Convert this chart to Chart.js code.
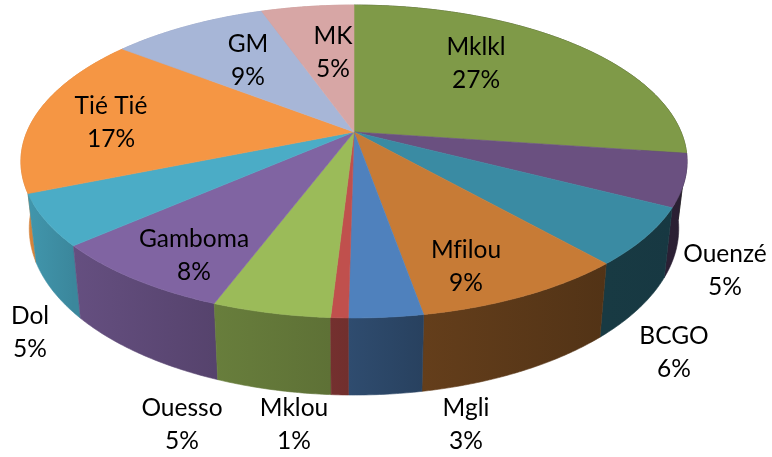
<!DOCTYPE html>
<html>
<head>
<meta charset="utf-8">
<style>
    html, body { margin: 0; padding: 0; background: #fff; }
    canvas { display: block; }
</style>
<script src="https://cdn.jsdelivr.net/npm/chart.js@4/dist/chart.umd.js"></script>
</head>
<body>
<canvas id="pie_chart" width="772" height="457"></canvas>
<script>
'use strict';

// Slices, clockwise from the top
const categories = ['Mklkl', 'Ouenzé', 'BCGO', 'Mfilou', 'Mgli', 'Mklou', 'Ouesso', 'Gamboma', 'Dol', 'Tié Tié', 'GM', 'MK'];
const shares = [27.2, 5.4, 5.9, 8.75, 3.0, 0.7, 4.8, 7.8, 5.3, 16.7, 9.1, 5.4];
const sliceColors = ['#7f9a48', '#6a5080', '#3a8ba3', '#c77b36', '#4f81bd', '#c0504d', '#9bbb59', '#8064a2', '#4bacc6', '#f59644', '#a7b6d7', '#d7a6a5'];

// Label centres (first line of the two), separate from the values
const labelCentres = {
    'Mklkl': [476, 47], 'Ouenzé': [725, 254], 'BCGO': [674, 336], 'Mfilou': [466, 250],
    'Mgli': [466, 408], 'Mklou': [294, 408], 'Ouesso': [182, 408], 'Gamboma': [194, 239],
    'Dol': [30, 316], 'Tié Tié': [111, 106], 'GM': [248, 44], 'MK': [333, 36]
};
const lineGap = 33;

// Tilt of the disc: the near edge is larger than the far edge
const tilt = 0.1886;
const stretchX = 2.478;
const stretchY = 1.143;
// Lower rim, relative to the upper one
const rimScaleX = 0.975;
const rimScaleY = 1.065;
const rimDrop = 65;
// Wall brightness by angle from the top, in degrees
const wallShade = [[0, 0.38], [90, 0.38], [125, 0.41], [160, 0.42], [175, 0.54], [182, 0.6], [195, 0.65], [220, 0.75], [250, 0.88], [275, 0.9], [360, 0.9]];

function project(arc, theta, lower) {
    const u = Math.sin(theta);
    const v = -Math.cos(theta);
    const d = 1 - tilt * v;
    const r = arc.outerRadius;
    let px = r * stretchX * u / d;
    let py = r * stretchY * v / d;
    if (lower) {
        px *= rimScaleX;
        py = py * rimScaleY + rimDrop;
    }
    return { x: arc.x + px, y: arc.y + py };
}

function shadeAt(theta) {
    const deg = theta * 180 / Math.PI;
    for (let i = 1; i < wallShade.length; i++) {
        if (deg <= wallShade[i][0]) {
            const a = wallShade[i - 1];
            const b = wallShade[i];
            return a[1] + (b[1] - a[1]) * (deg - a[0]) / (b[0] - a[0]);
        }
    }
    return 1;
}

function darken(hex, f) {
    const n = parseInt(hex.slice(1), 16);
    return `rgb(${Math.round((n >> 16) * f)}, ${Math.round(((n >> 8) & 255) * f)}, ${Math.round((n & 255) * f)})`;
}

// Draws the arcs the pie controller laid out as a tilted disc with a wall
const disc3d = {
    id: 'disc3d',
    beforeDatasetsDraw(chart) {
        const ctx = chart.ctx;
        const arcs = chart.getDatasetMeta(0).data;
        const step = Math.PI / 360;

        const slices = arcs.map((arc, i) => ({
            arc,
            i,
            start: arc.startAngle + Math.PI / 2,
            end: arc.endAngle + Math.PI / 2
        }));

        // Walls first, far slices before near ones
        const byDepth = slices.slice().sort((a, b) => Math.cos(b.start / 2 + b.end / 2) - Math.cos(a.start / 2 + a.end / 2));
        byDepth.forEach(s => {
            const a = project(s.arc, s.start, false);
            const b = project(s.arc, s.end, false);
            const fill = ctx.createLinearGradient(a.x, 0, b.x, 0);
            fill.addColorStop(0, darken(sliceColors[s.i], shadeAt(s.start)));
            fill.addColorStop(1, darken(sliceColors[s.i], shadeAt(s.end)));

            ctx.beginPath();
            ctx.moveTo(a.x, a.y);
            for (let t = s.start; t < s.end; t += step) {
                const q = project(s.arc, t, false);
                ctx.lineTo(q.x, q.y);
            }
            ctx.lineTo(b.x, b.y);
            for (let t = s.end; t > s.start; t -= step) {
                const q = project(s.arc, t, true);
                ctx.lineTo(q.x, q.y);
            }
            const c = project(s.arc, s.start, true);
            ctx.lineTo(c.x, c.y);
            ctx.closePath();
            ctx.fillStyle = fill;
            ctx.strokeStyle = fill;
            ctx.lineWidth = 0.6;
            ctx.fill();
            ctx.stroke();
        });

        // Top faces
        slices.forEach(s => {
            ctx.beginPath();
            ctx.moveTo(s.arc.x, s.arc.y);
            for (let t = s.start; t < s.end; t += step) {
                const q = project(s.arc, t, false);
                ctx.lineTo(q.x, q.y);
            }
            const last = project(s.arc, s.end, false);
            ctx.lineTo(last.x, last.y);
            ctx.closePath();
            ctx.fillStyle = sliceColors[s.i];
            ctx.strokeStyle = sliceColors[s.i];
            ctx.lineWidth = 0.6;
            ctx.fill();
            ctx.stroke();
        });

        // Category and percentage labels
        const total = shares.reduce((a, b) => a + b, 0);
        ctx.font = '24.5px Lato';
        ctx.letterSpacing = '0.01px'; // keeps "fi" in Mfilou as two letters
        ctx.fillStyle = '#000';
        ctx.textAlign = 'center';
        ctx.textBaseline = 'middle';
        categories.forEach((name, i) => {
            const c = labelCentres[name];
            ctx.fillText(name, c[0], c[1]);
            ctx.fillText(Math.round(shares[i] / total * 100) + '%', c[0], c[1] + lineGap);
        });
        return false;
    }
};

new Chart(document.getElementById('pie_chart').getContext('2d'), {
    type: 'pie',
    data: {
        labels: categories,
        datasets: [{ data: shares, backgroundColor: sliceColors, borderWidth: 0 }]
    },
    options: {
        responsive: false,
        animation: false,
        layout: { padding: { left: 0, top: 0, right: 64, bottom: 193 } },
        plugins: {
            legend: { display: false },
            tooltip: { enabled: false }
        }
    },
    plugins: [disc3d]
});
</script>
</body>
</html>
